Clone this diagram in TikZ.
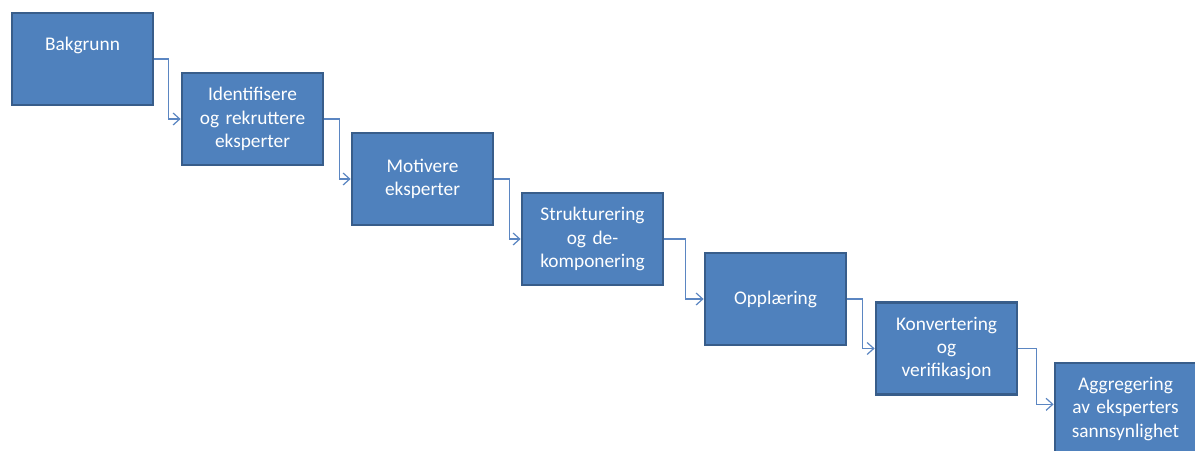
\documentclass[tikz,border=0pt]{standalone}
\usepackage{fontspec}
\setmainfont{Carlito}
\usetikzlibrary{arrows.meta, positioning}
\definecolor{boxfill}{HTML}{4F81BD}
\definecolor{boxline}{HTML}{385D8A}
\definecolor{linkcol}{HTML}{5B86C2}
\tikzset{
	stage/.style={
		rectangle,
		draw=boxline,
		line width=1.8pt,
		fill=boxfill,
		text=white,
		text width=102pt,
		align=center,
		minimum width=105.75pt,
		minimum height=69pt,
		inner sep=2pt,
		font=\fontsize{14.5}{17.5}\selectfont
	},
	link/.style={
		-{Straight Barb[length=5pt,width=9pt]},
		draw=linkcol,
		line width=0.9pt
	}
}
\begin{document}
\begin{tikzpicture}[x=0.75pt, y=-0.75pt]
		\useasboundingbox (0,0) rectangle (1195,450);
		
		% stages
		\node (bak)   [stage] at (82.5,59)   {Bakgrunn\\ \strut};
		\node (rekr)  [stage] at (252.5,119) {Identifisere\\og rekruttere\\eksperter};
		\node (motiv) [stage] at (422.5,179) {Motivere\\eksperter};
		\node (strukt)[stage] at (592.5,239) {Strukturering\\og de-\\komponering};
		\node (oppl)  [stage] at (775.5,299) {Opplæring};
		\node (konv)  [stage] at (946.5,348.5) {Konvertering\\og\\verifikasjon};
		\node (aggr)  [stage] at (1125.5,409) {Aggregering\\av eksperters\\sannsynlighet};
		
		% steps
		\draw [link] (bak.east)    -- ++(14,0) |- (rekr.west);
		\draw [link] (rekr.east)   -- ++(15,0) |- (motiv.west);
		\draw [link] (motiv.east)  -- ++(15,0) |- (strukt.west);
		\draw [link] (strukt.east) -- ++(21,0) |- (oppl.west);
		\draw [link] (oppl.east)   -- ++(15,0) |- (konv.west);
		\draw [link] (konv.east)   -- ++(18,0) |- ([yshift=3.5pt]aggr.west);
		
	\end{tikzpicture}
\end{document}
